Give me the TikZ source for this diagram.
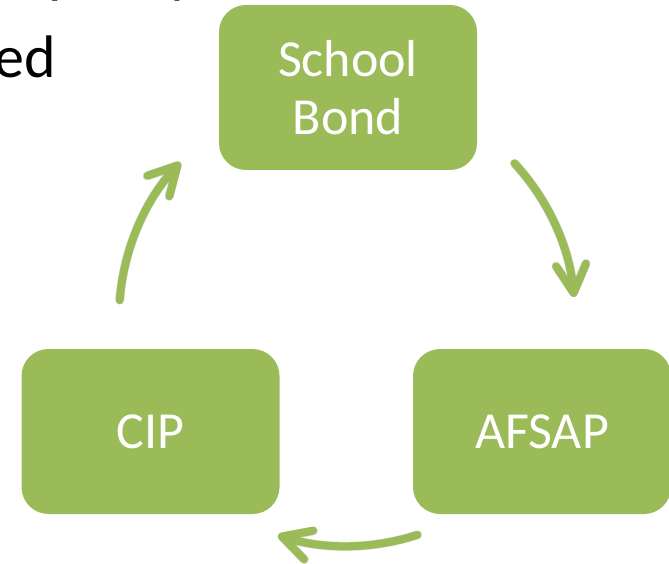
\documentclass[tikz,border=0pt]{standalone}
\usepackage{fontspec}
\setmainfont{Carlito}
\usetikzlibrary{arrows.meta}
\definecolor{boxgreen}{HTML}{9BBB59}
\begin{document}
\begin{tikzpicture}[x=1pt,y=-1pt,
  box/.style={fill=boxgreen, rounded corners=27pt, draw=none,
    minimum width=258pt, minimum height=165pt, text=white,
    font=\fontsize{52}{58}\selectfont, align=center, inner sep=0pt},
  cyc/.style={line width=8pt, draw=boxgreen, line cap=round,
    -{Straight Barb[length=28pt,width=30pt,line cap=round,line join=round]}},
  cycshadow/.style={line width=9pt, draw=black, opacity=0.12, line cap=round,
    -{Straight Barb[length=28pt,width=30pt,line cap=round,line join=round]}},
  bgtext/.style={font=\fontsize{60}{72}\selectfont, inner sep=0pt, text=black}]
\useasboundingbox (0,0) rectangle (669,564);
\clip (0,0) rectangle (669,564);
\node[bgtext, anchor=base west] (t1) at (-5,-8) {capacity};
\node[bgtext, anchor=base east] (t2) at (56,78) {ed};
\node[box] (sb) at (348,87.5) {School\\Bond};
\node[box] (cip) at (150.5,431.5) {CIP};
\node[box] (af) at (542,431.5) {AFSAP};
\coordinate (c) at (347,318);
\coordinate (a1) at ([shift={(-42.7:228)}]c);
\coordinate (a2) at ([shift={(72:228)}]c);
\coordinate (a3) at ([shift={(184.5:228)}]c);
\begin{scope}[shift={(2,3)}]
\draw[cycshadow] (a1) arc[start angle=-42.7, end angle=-5.3, radius=228];
\draw[cycshadow] (a2) arc[start angle=72, end angle=107.6, radius=228];
\draw[cycshadow] (a3) arc[start angle=184.5, end angle=223, radius=228];
\end{scope}
\draw[cyc] (a1) arc[start angle=-42.7, end angle=-5.3, radius=228];
\draw[cyc] (a2) arc[start angle=72, end angle=107.6, radius=228];
\draw[cyc] (a3) arc[start angle=184.5, end angle=223, radius=228];
\end{tikzpicture}
\end{document}
